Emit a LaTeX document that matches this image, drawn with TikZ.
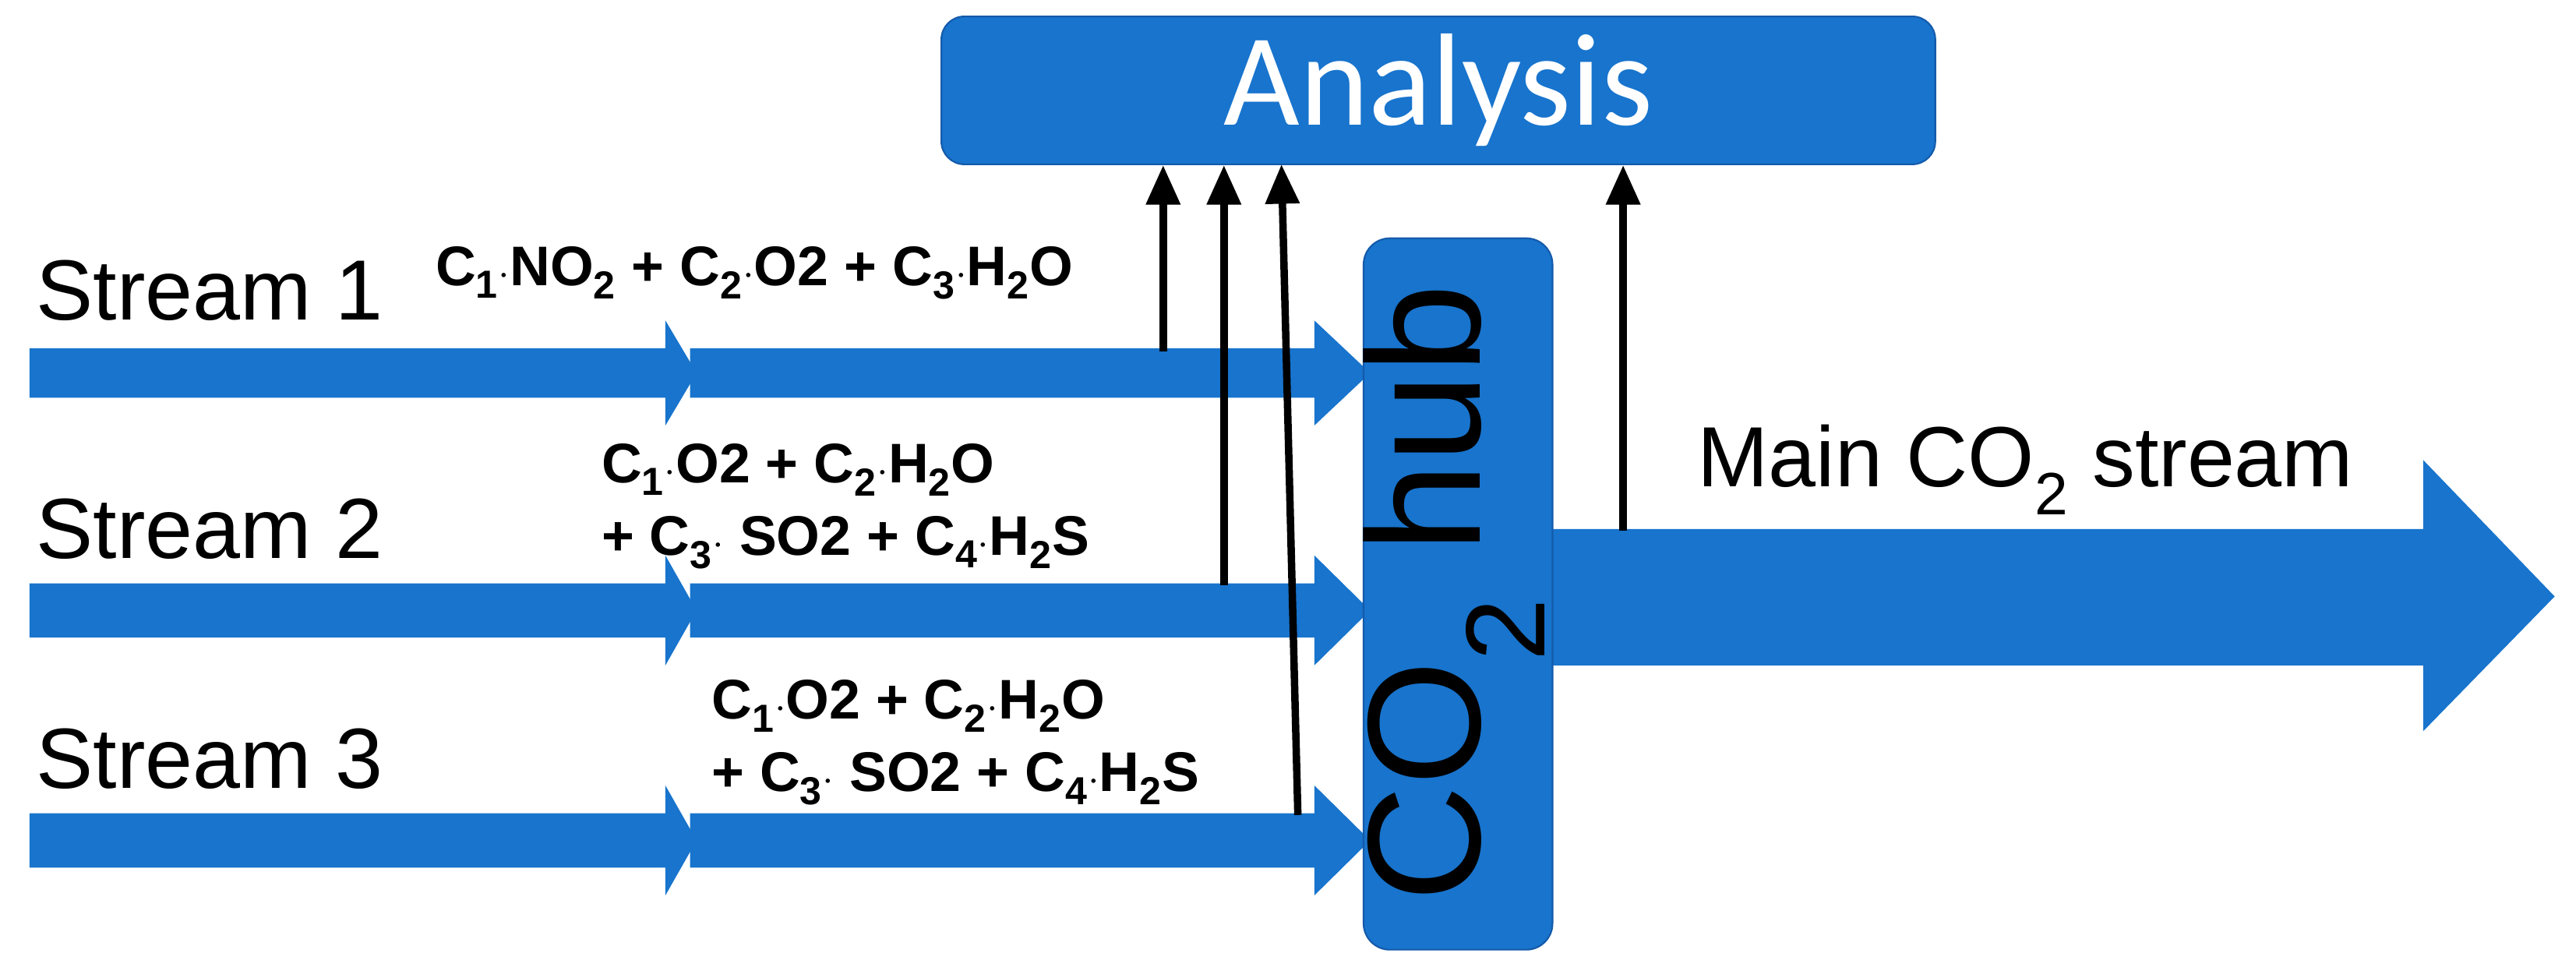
\documentclass[tikz,border=0pt]{standalone}
\usepackage{fontspec}
\setmainfont{Liberation Sans}
\newfontfamily\carl{Carlito}
\usetikzlibrary{arrows.meta}
\definecolor{flow}{RGB}{24,116,205}
\definecolor{edge}{RGB}{20,90,170}
\begin{document}
\begin{tikzpicture}[x=1pt,y=-1pt,
  band/.style={fill=flow,draw=none},
  probe/.style={line width=4.5pt,-{Triangle[length=24pt,width=20pt]}},
  lbl/.style={font=\fontsize{52}{60}\selectfont,inner sep=0},
  frm/.style={font=\bfseries\fontsize{34}{44}\selectfont,inner sep=0,align=left}]
\useasboundingbox (0,0) rectangle (1568,595);
% stream arrows
\foreach \t/\b in {212/242,355/388,495/528}{
  \pgfmathsetmacro\c{(\t+\b)/2}
  \pgfmathsetmacro\tt{\t-17}\pgfmathsetmacro\bb{\b+17}
  \fill[band] (18,\t)--(405,\t)--(405,\tt)--(424,\c)--(405,\bb)--(405,\b)--(18,\b)--cycle;
  \fill[band] (420,\t)--(800,\t)--(800,\tt)--(834,\c)--(800,\bb)--(800,\b)--(420,\b)--cycle;
}
% main arrow
\fill[band] (945,322)--(1475,322)--(1475,280)--(1555,363)--(1475,445)--(1475,405)--(945,405)--cycle;
% boxes
\node[draw=edge,line width=1pt,fill=flow,rounded corners=14pt,minimum width=605pt,minimum height=90pt,
  text=white,font=\carl\fontsize{80}{90}\selectfont] (an) at (875.5,55) {Analysis};
\node[draw=edge,line width=1pt,fill=flow,rounded corners=16pt,minimum width=115pt,minimum height=433pt] (hub) at (887.5,361.5) {};
\node[rotate=90,font=\fontsize{98}{110}\selectfont,inner sep=0] (hubt) at (885,361) {CO\textsubscript{2} hub};
% labels
\node[lbl,anchor=west] (s1) at (22,177) {Stream 1};
\node[lbl,anchor=west] (s2) at (22,322) {Stream 2};
\node[lbl,anchor=west] (s3) at (22,462) {Stream 3};
\node[frm,anchor=west] (f1) at (265,166) {C\textsubscript{1}$\cdot$NO\textsubscript{2} + C\textsubscript{2}$\cdot$O2 + C\textsubscript{3}$\cdot$H\textsubscript{2}O};
\node[frm,anchor=west] (f2) at (366,308) {C\textsubscript{1}$\cdot$O2 + C\textsubscript{2}$\cdot$H\textsubscript{2}O\\+ C\textsubscript{3}$\cdot$ SO2 + C\textsubscript{4}$\cdot$H\textsubscript{2}S};
\node[frm,anchor=west] (f3) at (433,452) {C\textsubscript{1}$\cdot$O2 + C\textsubscript{2}$\cdot$H\textsubscript{2}O\\+ C\textsubscript{3}$\cdot$ SO2 + C\textsubscript{4}$\cdot$H\textsubscript{2}S};
\node[lbl,anchor=west] (mn) at (1033,286) {Main CO\textsubscript{2} stream};
% probes
\coordinate (p1) at (708,214);
\coordinate (p2) at (745,356);
\coordinate (p3) at (790,496);
\coordinate (p4) at (988,323);
\draw[probe] (p1) -- (p1 |- an.south);
\draw[probe] (p2) -- (p2 |- an.south);
\draw[probe] (p3) -- (780,100) coordinate (p3t);
\draw[probe] (p4) -- (p4 |- an.south);
\end{tikzpicture}
\end{document}
